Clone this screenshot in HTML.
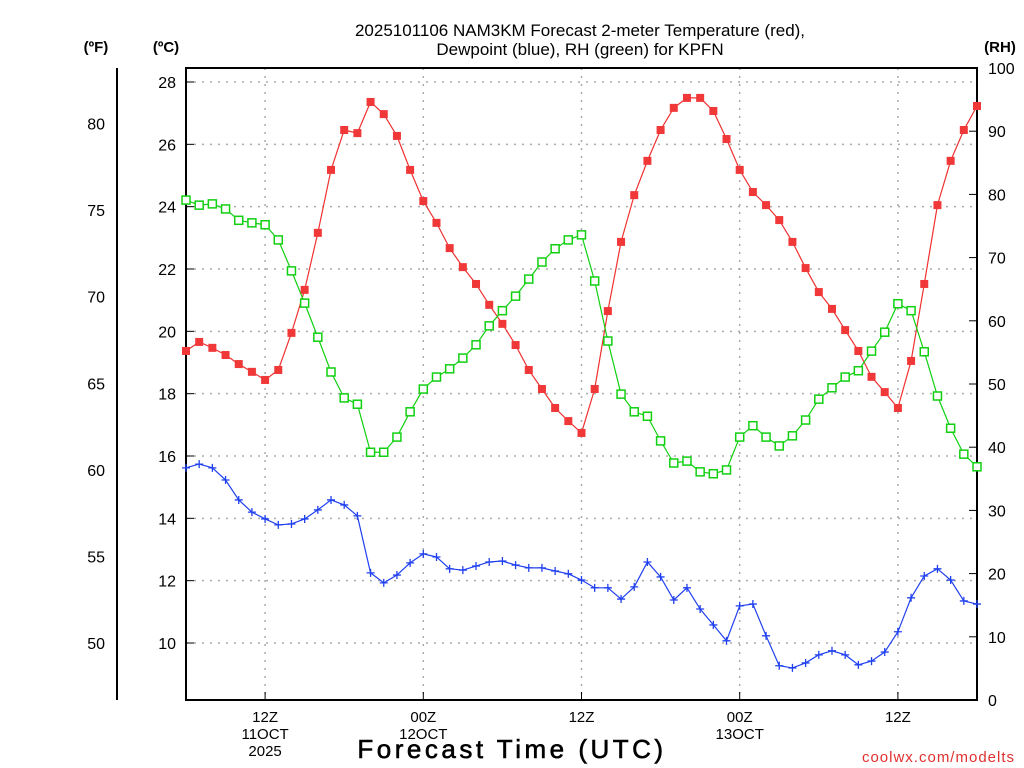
<!DOCTYPE html>
<html><head><meta charset="utf-8"><style>
body{margin:0;background:#fff;}
svg{display:block;font-family:"Liberation Sans",sans-serif;}
</style></head><body>
<svg id="chart" width="1024" height="768" viewBox="0 0 1024 768" xmlns="http://www.w3.org/2000/svg">
<rect width="1024" height="768" fill="#fff"/>
<text x="580" y="36" font-size="17" text-anchor="middle">2025101106 NAM3KM Forecast 2-meter Temperature (red),</text>
<text x="580" y="55" font-size="17" text-anchor="middle">Dewpoint (blue), RH (green) for KPFN</text>
<text x="96" y="52" font-size="15" font-weight="bold" text-anchor="middle">(ºF)</text>
<text x="166" y="52" font-size="15" font-weight="bold" text-anchor="middle">(ºC)</text>
<text x="1000" y="52" font-size="15" font-weight="bold" text-anchor="middle">(RH)</text>
<g id="grid"></g>
<g id="axes"></g>
<g id="series"></g>
<text x="512" y="758" font-size="26" text-anchor="middle" letter-spacing="3.5" stroke="#000" stroke-width="0.6">Forecast Time (UTC)</text>
<text x="1015" y="762" font-size="15" fill="#e03030" text-anchor="end" letter-spacing="1">coolwx.com/modelts</text>
</svg>
<script>
const hours = Array.from({length:61},(_,i)=>i); // hours since 2025-10-11 06Z
const tempC = [19.37,19.66,19.47,19.24,18.95,18.7,18.44,18.76,19.95,21.33,23.16,25.18,26.46,26.36,27.36,26.97,26.27,25.18,24.18,23.48,22.67,22.06,21.52,20.85,20.24,19.56,18.76,18.15,17.54,17.12,16.74,18.15,20.65,22.87,24.37,25.47,26.46,27.17,27.49,27.49,27.07,26.17,25.18,24.47,24.05,23.57,22.87,22.03,21.26,20.72,20.04,19.37,18.54,18.05,17.54,19.05,21.52,24.05,25.47,26.46,27.23];
const dewC = [15.62,15.74,15.62,15.23,14.59,14.2,13.98,13.79,13.82,13.98,14.27,14.59,14.43,14.08,12.25,11.93,12.18,12.57,12.86,12.76,12.38,12.34,12.47,12.6,12.63,12.5,12.41,12.41,12.31,12.22,12.02,11.77,11.77,11.41,11.8,12.6,12.12,11.38,11.77,11.09,10.58,10.07,11.19,11.25,10.23,9.27,9.2,9.36,9.62,9.75,9.62,9.3,9.42,9.71,10.36,11.45,12.15,12.38,12.02,11.35,11.25];
const rh = [79.1,78.3,78.5,77.7,75.9,75.5,75.2,72.8,67.9,62.8,57.4,51.9,47.8,46.8,39.2,39.2,41.6,45.6,49.2,51.1,52.4,54.1,56.2,59.2,61.6,63.9,66.6,69.3,71.4,72.8,73.6,66.3,56.8,48.4,45.6,44.9,41.0,37.5,37.8,36.1,35.8,36.4,41.6,43.4,41.6,40.2,41.8,44.3,47.6,49.4,51.1,52.1,55.2,58.2,62.7,61.6,55.1,48.1,43.0,38.9,36.9];
const cTicks = [10,12,14,16,18,20,22,24,26,28];
const fTicks = [50,55,60,65,70,75,80];
const rhTicks = [0,10,20,30,40,50,60,70,80,90,100];
const timeTicks = [6,18,30,42,54];
const timeLabels = [["12Z","11OCT","2025"],["00Z","12OCT"],["12Z"],["00Z","13OCT"],["12Z"]];

const L=186,R=977,T=68,B=700;
const x = h => L + (h-0)/60*(R-L);
const yC = c => 643 - (c-10)*(643-82)/18;
const yF = f => yC((f-32)*5/9);
const yRH = v => B - v/100*(B-T);
const NS="http://www.w3.org/2000/svg";
function mk(tag,attrs,parent,txt){const e=document.createElementNS(NS,tag);for(const k in attrs)e.setAttribute(k,attrs[k]);if(txt!==undefined)e.textContent=txt;parent.appendChild(e);return e;}
const grid=document.getElementById('grid'), axes=document.getElementById('axes'), ser=document.getElementById('series');

cTicks.forEach(c=>{
  const l=mk('line',{x1:L,x2:R,y1:yC(c),y2:yC(c),stroke:'#aaa','stroke-width':1.5,'stroke-dasharray':'2 6'},grid);
  
  
  const t=mk('text',{x:176,y:yC(c)+6,'font-size':16,'text-anchor':'end'},axes,String(c));
  
  
  mk('line',{x1:L,x2:L+8,y1:yC(c),y2:yC(c),stroke:'#000','stroke-width':1},axes);
});
timeTicks.forEach((h,i)=>{
  const l=mk('line',{x1:x(h),x2:x(h),y1:T,y2:B,stroke:'#aaa','stroke-width':1.5,'stroke-dasharray':'2 6'},grid);
  
  
  timeLabels[i].forEach((s,j)=>{
    const t=mk('text',{x:x(h),y:722+j*17,'font-size':15,'text-anchor':'middle'},axes,s);
    
    
  });
  mk('line',{x1:x(h),x2:x(h),y1:B,y2:B-8,stroke:'#000'},axes);
});
fTicks.forEach(f=>{
  const t=mk('text',{x:105,y:yF(f)+6,'font-size':16,'text-anchor':'end'},axes,String(f));
  
  
});
rhTicks.forEach(v=>{
  const t=mk('text',{x:988,y:yRH(v)+6,'font-size':16,'text-anchor':'start'},axes,String(v));
  
  
  mk('line',{x1:R,x2:R-8,y1:yRH(v),y2:yRH(v),stroke:'#000'},axes);
});
const fl=mk('line',{x1:117,x2:117,y1:T,y2:B,stroke:'#000','stroke-width':2},axes);


const fr=mk('rect',{x:L,y:T,width:R-L,height:B-T,fill:'none',stroke:'#000','stroke-width':2},axes);



function line(vals,yf,color,name){
  const p=mk('polyline',{points:vals.map((v,i)=>x(hours[i])+','+yf(v)).join(' '),fill:'none',stroke:color,'stroke-width':1.2},ser);
  
  
}
line(tempC,yC,'#f03030','temperature');
line(rh,yRH,'#10d010','rh');
line(dewC,yC,'#2040f0','dewpoint');
tempC.forEach((v,i)=>{
  const r=mk('rect',{x:x(hours[i])-4,y:yC(v)-4,width:8,height:8,fill:'#f03838'},ser);
  
  
});
rh.forEach((v,i)=>{
  const r=mk('rect',{x:x(hours[i])-4,y:yRH(v)-4,width:8,height:8,fill:'#fff',stroke:'#10d010','stroke-width':1.5},ser);
  
  
});
dewC.forEach((v,i)=>{
  const cx=x(hours[i]),cy=yC(v);
  const p=mk('path',{d:`M${cx-4},${cy}H${cx+4}M${cx},${cy-4}V${cy+4}`,stroke:'#2040f0','stroke-width':1.3},ser);
  
  
});
</script>
</body></html>
